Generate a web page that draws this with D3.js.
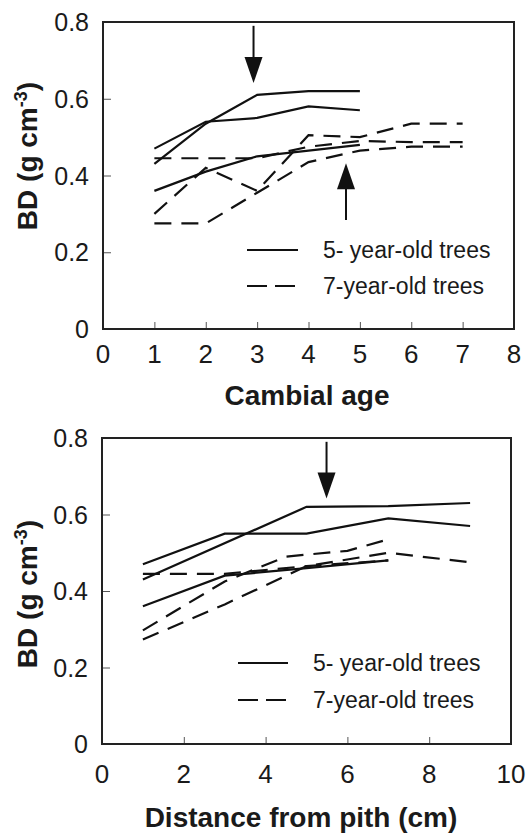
<!DOCTYPE html>
<html>
<head>
<meta charset="utf-8">
<script src="https://cdn.jsdelivr.net/npm/d3@7"></script>
<style>
  html, body { margin: 0; padding: 0; background: #fff; }
  svg { display: block; }
  text { font-family: "Liberation Sans", Arial, sans-serif; fill: #1a1a1a; }
</style>
</head>
<body>
<svg width="527" height="833"></svg>
<script>
// top panel: BD vs cambial age
const ageX5 = [1, 2, 3, 4, 5];
const bdAge5 = [
  [0.47, 0.54, 0.55, 0.58, 0.57],
  [0.43, 0.535, 0.61, 0.62, 0.62],
  [0.36, 0.41, 0.45, 0.465, 0.48]
];
const ageX7 = [1, 2, 3, 4, 5, 6, 7];
const bdAge7 = [
  [0.445, 0.445, 0.445, 0.475, 0.49, 0.487, 0.487],
  [0.30, 0.42, 0.36, 0.505, 0.50, 0.535, 0.535],
  [0.275, 0.275, 0.355, 0.435, 0.465, 0.475, 0.475]
];
const ageTicks = [0, 1, 2, 3, 4, 5, 6, 7, 8];

// bottom panel: BD vs distance from pith
const distX5 = [[1, 3, 5, 7, 9], [1, 5, 7, 9], [1, 3, 5, 7]];
const bdDist5 = [
  [0.47, 0.55, 0.55, 0.59, 0.57],
  [0.43, 0.62, 0.622, 0.63],
  [0.36, 0.44, 0.46, 0.48]
];
const distX7 = [[1, 3, 5, 7], [1, 3, 4.5, 6, 7], [1, 3, 5, 7, 9]];
const bdDist7 = [
  [0.445, 0.445, 0.465, 0.48],
  [0.297, 0.425, 0.49, 0.505, 0.535],
  [0.273, 0.365, 0.465, 0.50, 0.475]
];
const distTicks = [0, 2, 4, 6, 8, 10];

const bdTicks = [0, 0.2, 0.4, 0.6, 0.8];
const legendLabels = ["5- year-old trees", "7-year-old trees"];
// arrows: x position, start and end BD
const arrowsAge = [{x: 2.93, from: 0.79, to: 0.641}, {x: 4.73, from: 0.284, to: 0.432}];
const arrowsDist = [{x: 5.49, from: 0.79, to: 0.642}];

const svg = d3.select('svg');
const dash = '17,10';

function drawPanel(opt) {
  const x = d3.scaleLinear().domain(opt.xDomain).range([opt.left, opt.right]);
  const y = d3.scaleLinear().domain([0, 0.8]).range([opt.bottom, opt.top]);
  const g = svg.append('g');

  // inward ticks
  g.append('g')
    .attr('transform', 'translate(0,' + opt.bottom + ')')
    .call(d3.axisTop(x).tickValues(opt.xTicks).tickSize(7).tickFormat(''))
    .call(a => a.select('.domain').remove())
    .selectAll('line').attr('stroke', '#555').attr('stroke-width', 1);
  g.append('g')
    .attr('transform', 'translate(' + opt.left + ',0)')
    .call(d3.axisRight(y).tickValues(bdTicks).tickSize(8).tickFormat(''))
    .call(a => a.select('.domain').remove())
    .selectAll('line').attr('stroke', '#555').attr('stroke-width', 1);

  g.append('rect')
    .attr('x', opt.left).attr('y', opt.top)
    .attr('width', opt.right - opt.left).attr('height', opt.bottom - opt.top)
    .attr('fill', 'none').attr('stroke', '#222').attr('stroke-width', 2);

  // tick labels
  g.selectAll('.xl').data(opt.xTicks).enter().append('text')
    .attr('x', d => x(d)).attr('y', opt.bottom + opt.xLabelDy)
    .attr('text-anchor', 'middle').style('font-size', '26px')
    .text(d => d);
  g.selectAll('.yl').data(bdTicks).enter().append('text')
    .attr('x', opt.left - 14).attr('y', d => y(d) + 9)
    .attr('text-anchor', 'end').style('font-size', '25px')
    .text(d => d === 0 ? '0' : d.toFixed(1));

  // titles
  g.append('text')
    .attr('x', opt.xTitleX).attr('y', opt.xTitleY)
    .attr('text-anchor', 'middle').style('font-size', '28px').style('font-weight', 'bold')
    .text(opt.xTitle);
  const yt = g.append('text')
    .attr('transform', 'translate(37,' + opt.yTitleCenter + ') rotate(-90)')
    .attr('text-anchor', 'middle').style('font-size', '28px').style('font-weight', 'bold');
  yt.append('tspan').text('BD (g cm');
  yt.append('tspan').attr('dy', -10).style('font-size', '18px').text('-3');
  yt.append('tspan').attr('dy', 10).text(')');

  const line = d3.line().x(d => x(d[0])).y(d => y(d[1]));
  const series = [];
  opt.solidX.forEach((xs, i) => series.push({pts: xs.map((v, j) => [v, opt.solidY[i][j]]), dashed: false}));
  opt.dashX.forEach((xs, i) => series.push({pts: xs.map((v, j) => [v, opt.dashY[i][j]]), dashed: true}));
  g.selectAll('.series').data(series).enter().append('path')
    .attr('d', d => line(d.pts))
    .attr('fill', 'none').attr('stroke', '#111').attr('stroke-width', 2.2)
    .attr('stroke-dasharray', d => d.dashed ? dash : null);

  // legend
  opt.legendRows.forEach((ly, i) => {
    g.append('line')
      .attr('x1', opt.legendX1).attr('x2', opt.legendX2).attr('y1', ly).attr('y2', ly)
      .attr('stroke', '#111').attr('stroke-width', 2)
      .attr('stroke-dasharray', i === 1 ? '20,8' : null);
    g.append('text')
      .attr('x', opt.legendTextX).attr('y', ly + 8)
      .style('font-size', '23px').text(legendLabels[i]);
  });

  // arrows
  opt.arrows.forEach(a => {
    const x0 = x(a.x), y0 = y(a.from), y1 = y(a.to);
    const s = y1 > y0 ? 1 : -1;
    g.append('line').attr('x1', x0).attr('x2', x0).attr('y1', y0).attr('y2', y1 - s * 20)
      .attr('stroke', '#111').attr('stroke-width', 2);
    g.append('path')
      .attr('d', 'M' + x0 + ',' + y1 + 'L' + (x0 - 9) + ',' + (y1 - s * 26) + 'L' + (x0 + 9) + ',' + (y1 - s * 26) + 'Z')
      .attr('fill', '#111');
  });
}

drawPanel({
  xDomain: [0, 8], left: 103, right: 514, top: 22, bottom: 329,
  xTicks: ageTicks, xLabelDy: 34, xTitle: 'Cambial age', xTitleX: 307, xTitleY: 405, yTitleCenter: 156,
  solidX: bdAge5.map(() => ageX5), solidY: bdAge5,
  dashX: bdAge7.map(() => ageX7), dashY: bdAge7,
  legendRows: [250, 286], legendX1: 247, legendX2: 298, legendTextX: 323,
  arrows: arrowsAge
});

drawPanel({
  xDomain: [0, 10], left: 102, right: 511, top: 438, bottom: 744,
  xTicks: distTicks, xLabelDy: 39, xTitle: 'Distance from pith (cm)', xTitleX: 301, xTitleY: 827, yTitleCenter: 594,
  solidX: distX5, solidY: bdDist5,
  dashX: distX7, dashY: bdDist7,
  legendRows: [663, 700], legendX1: 238, legendX2: 288, legendTextX: 313,
  arrows: arrowsDist
});
</script>
</body>
</html>
